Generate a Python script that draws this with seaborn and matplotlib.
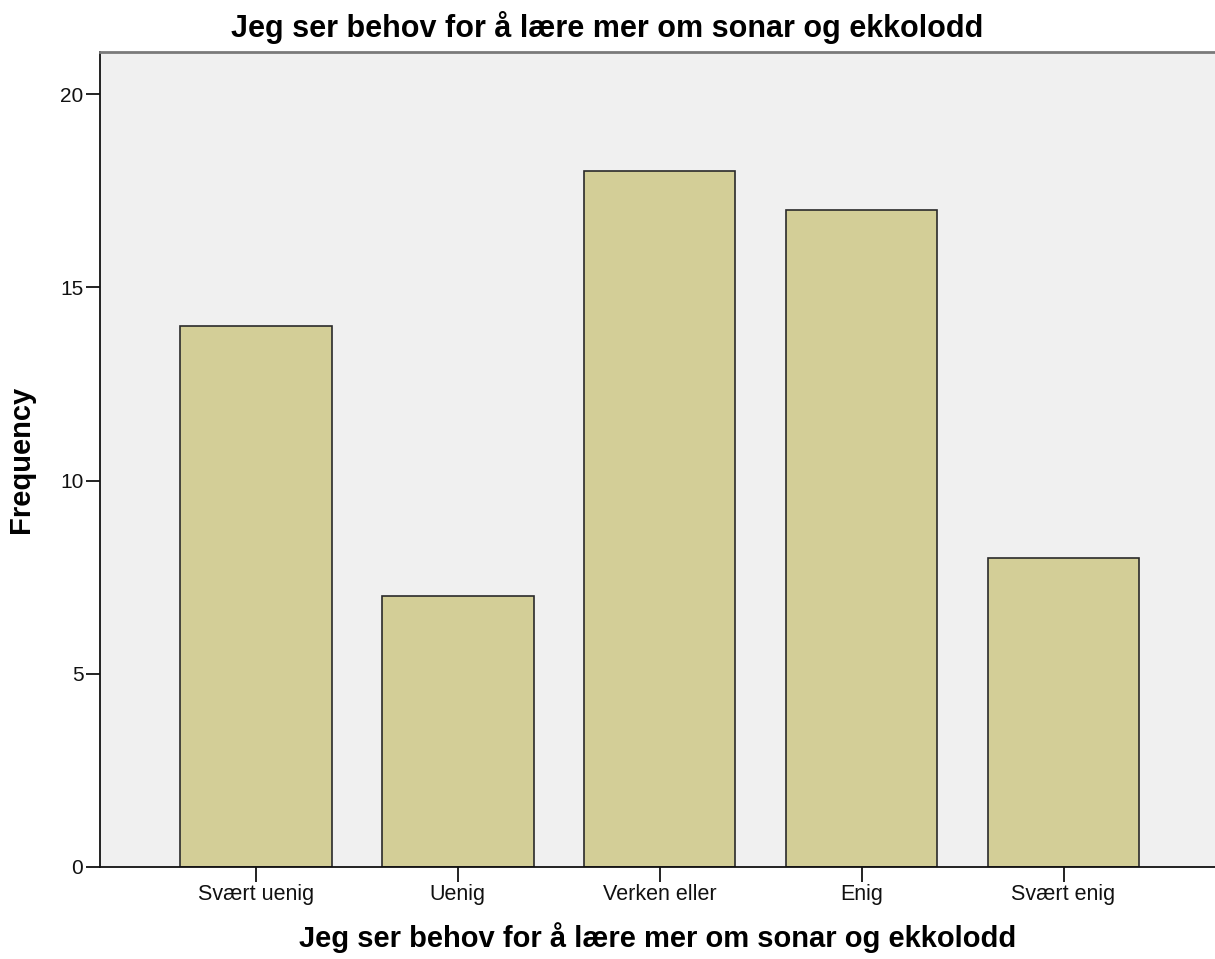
import matplotlib
matplotlib.use('Agg')
import matplotlib.pyplot as plt
import seaborn as sns

categories = ['Svært uenig', 'Uenig', 'Verken eller', 'Enig', 'Svært enig']
frequency = [14, 7, 18, 17, 8]
yticks = [0, 5, 10, 15, 20]

title_text = 'Jeg ser behov for å lære mer om sonar og ekkolodd'

sns.set_style('ticks')
plt.rcParams['font.family'] = ['Liberation Sans', 'DejaVu Sans']

fig = plt.figure(figsize=(12.15, 9.59), dpi=100)
ax = fig.add_axes([100 / 1215, 92 / 959, 1115 / 1215, 815 / 959])
ax.set_facecolor('#F0F0F0')

sns.barplot(x=categories, y=frequency, color='#D3CE97', saturation=1,
            width=0.75, edgecolor='#2a2a2a', linewidth=1.2, ax=ax)

ax.set_xlim(-0.772, 4.75)
ax.set_ylim(0, 21.09)
ax.set_yticks(yticks)
ax.tick_params(axis='y', length=10, width=1.3, labelsize=15, pad=2, colors='#111111')
ax.tick_params(axis='x', length=10.5, width=1.3, labelsize=15.5, pad=2, colors='#111111')

for s in ['left', 'bottom']:
    ax.spines[s].set_color('#111111')
    ax.spines[s].set_linewidth(1.3)
ax.spines['top'].set_color('#7a7a7a')
ax.spines['top'].set_linewidth(2)
ax.spines['right'].set_visible(False)

ax.set_xlabel(title_text, fontsize=21, fontweight='bold', labelpad=12, color='black')
ax.set_ylabel('Frequency', fontsize=21, fontweight='bold', labelpad=18, color='black')
fig.text(0.5, 1 - 28 / 959, title_text, ha='center', va='center',
         fontsize=22, fontweight='bold', color='black')

fig.savefig('out.png', dpi=100, facecolor='white')
